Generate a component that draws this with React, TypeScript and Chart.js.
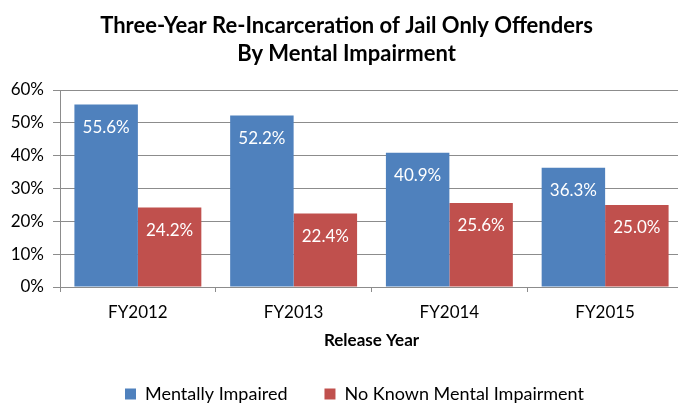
import React, { useEffect, useRef } from "react";
import { Chart, registerables } from "chart.js";

Chart.register(...registerables);

const categories = ["FY2012", "FY2013", "FY2014", "FY2015"];
const mentallyImpaired = [55.6, 52.2, 40.9, 36.3];
const noKnownImpairment = [24.2, 22.4, 25.6, 25.0];
const seriesNames = ["Mentally Impaired", "No Known Mental Impairment"];
const titleLines = ["Three-Year Re-Incarceration of Jail Only Offenders", "By Mental Impairment"];
const xAxisTitle = "Release Year";
const yMin = 0;
const yMax = 60;
const yStep = 10;

const FONT = "Lato";
const GRID = "#8c8c8c";

const valueLabels = {
  id: "valueLabels",
  afterDatasetsDraw(chart: any) {
    const ctx = chart.ctx;
    ctx.save();
    ctx.font = `17px ${FONT}`;
    ctx.fillStyle = "#ffffff";
    ctx.textAlign = "center";
    ctx.textBaseline = "alphabetic";
    chart.data.datasets.forEach((ds: any, i: number) => {
      const meta = chart.getDatasetMeta(i);
      meta.data.forEach((bar: any, j: number) => {
        ctx.fillText(Number(ds.data[j]).toFixed(1) + "%", bar.x, bar.y + 28.5);
      });
    });
    ctx.restore();
  },
};

const boxShift = {
  id: "boxShift",
  afterLayout(chart: any) {
    const lg = chart.legend;
    if (lg) {
      lg.left += 13;
      lg.right += 13;
      lg.top += -8;
    }
    const tb = chart.titleBlock;
    if (tb) {
      tb.left += 5;
      tb.right += 5;
    }
  },
};

export default function App() {
  const ref = useRef<HTMLCanvasElement | null>(null);

  useEffect(() => {
    if (!ref.current) return;
    const chart = new Chart(ref.current, {
      type: "bar",
      data: {
        labels: categories,
        datasets: [
          {
            label: seriesNames[0],
            data: mentallyImpaired,
            backgroundColor: "#4f81bd",
            categoryPercentage: 0.815,
            barPercentage: 1,
          },
          {
            label: seriesNames[1],
            data: noKnownImpairment,
            backgroundColor: "#c0504d",
            categoryPercentage: 0.815,
            barPercentage: 1,
          },
        ],
      },
      options: {
        responsive: false,
        animation: false,
        devicePixelRatio: 1,
        layout: { padding: 0 },
        plugins: {
          tooltip: { enabled: false },
          title: {
            display: true,
            text: titleLines,
            color: "#000000",
            font: { family: FONT, size: 22, weight: "bold", lineHeight: 28 / 22 },
            padding: { top: 12, bottom: 22 },
          },
          legend: {
            position: "bottom",
            maxHeight: 50,
            labels: {
              boxWidth: 11,
              boxHeight: 11,
              padding: 37,
              color: "#000000",
              font: { family: FONT, size: 18 },
            },
          },
        },
        scales: {
          x: {
            offset: true,
            grid: {
              offset: true,
              drawOnChartArea: false,
              drawTicks: true,
              tickLength: 5,
              color: GRID,
            },
            border: { color: GRID },
            ticks: {
              color: "#000000",
              font: { family: FONT, size: 17 },
              padding: 10,
            },
            title: {
              display: true,
              text: xAxisTitle,
              color: "#000000",
              font: { family: FONT, size: 17, weight: "bold", lineHeight: 1.2 },
              padding: { top: 0, bottom: 4.8 },
            },
            afterFit(scale: any) {
              scale.height = 69;
            },
          },
          y: {
            min: yMin,
            max: yMax,
            grid: { color: GRID, tickLength: 7 },
            border: { color: GRID },
            ticks: {
              stepSize: yStep,
              color: "#000000",
              font: { family: FONT, size: 17 },
              padding: 9,
              callback: (v: any) => v + "%",
            },
            afterFit(scale: any) {
              scale.width = 60;
            },
          },
        },
      },
      plugins: [valueLabels, boxShift],
    });
    return () => chart.destroy();
  }, []);

  return (
    <div
      style={{
        position: "fixed",
        left: 0,
        top: 0,
        width: 678,
        height: 406,
        overflow: "hidden",
        background: "#ffffff",
      }}
    >
      <canvas
        ref={ref}
        width={683}
        height={406}
        style={{ display: "block", width: 683, height: 406 }}
      />
    </div>
  );
}
